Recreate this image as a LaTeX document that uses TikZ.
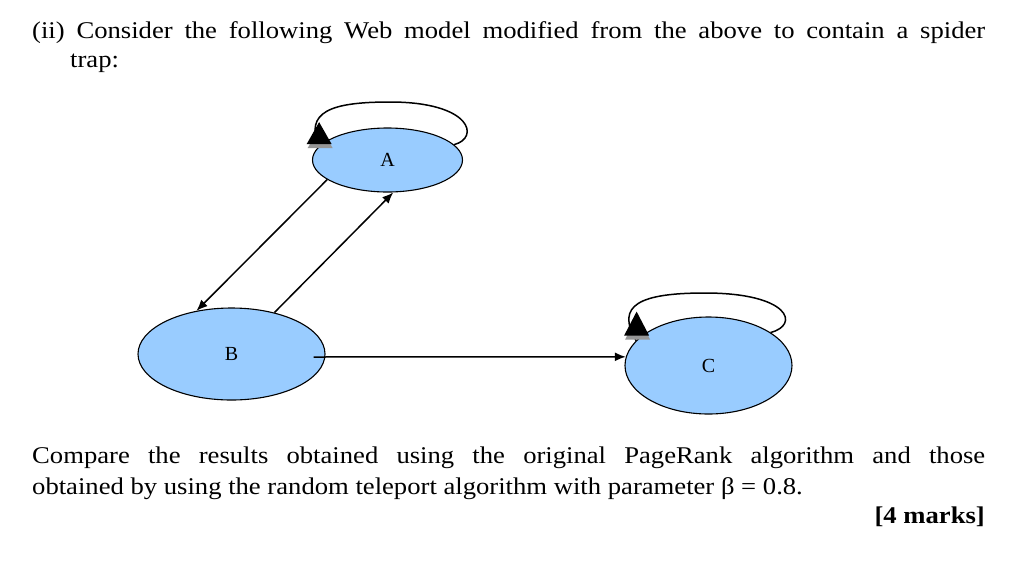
\documentclass[tikz,border=0pt]{standalone}
\usepackage{fontspec}
\setmainfont[FakeStretch=1.11]{Liberation Serif}
\newfontfamily\labelfont{Liberation Serif}
\usetikzlibrary{shapes.geometric,arrows.meta}
\definecolor{nodeblue}{RGB}{153,204,255}
\definecolor{shadowgray}{RGB}{150,150,150}
\tikzset{
  page/.style={ellipse, draw=black, line width=1.1pt, fill=nodeblue, inner sep=0pt, font=\labelfont\fontsize{20}{24}\selectfont},
  link/.style={line width=1.5pt, -{Latex[length=11pt,width=9pt]}},
  selfloop/.style={line width=1.5pt},
  bighead/.style={fill=black},
  headshadow/.style={fill=shadowgray},
  body/.style={anchor=base west, inner sep=0pt, font=\fontsize{24}{31}\selectfont},
}
\begin{document}
\begin{tikzpicture}[x=1pt,y=-1pt]
\useasboundingbox (0,0) rectangle (1020,571);
\fill[white] (0,0) rectangle (1020,571);
% question text
\node[body] (l1) at (32,38) {\makebox[953pt][s]{(ii) Consider the following Web model modified from the above to contain a spider}};
\node[body] (l2) at (70,67) {trap:};
% nodes
\node[page, minimum width=150pt, minimum height=64pt] (A) at (387.5,160) {A};
\node[page, minimum width=187pt, minimum height=92pt] (B) at (231.5,354) {B};
\node[page, minimum width=167pt, minimum height=97pt] (C) at (708.5,365.5) {C};
% links
\draw[link] (A.198) -- (B.129);
\draw[link] (B.44) -- (A.-80);
\draw[link] ([shift={(-12,3)}]B.east) -- (C.174);
% self loops
\draw[selfloop] (A.13) .. controls (480,138) and (472,102) .. (390,102)
  .. controls (330,102) and (305,112) .. (A.169);
\draw[selfloop] (C.28) .. controls (800,325) and (790,293) .. (705,293)
  .. controls (640,293) and (615,305) .. (C.161);
% loop arrowheads
\coordinate (tA) at ([shift={(0.5,-24.5)}]A.169);
\coordinate (tC) at ([shift={(0.5,-29)}]C.161);
\fill[headshadow] ([shift={(1,4)}]tA) -- ++(-12.5,22) -- ++(25,0) -- cycle;
\fill[bighead] (tA) -- ++(-12.5,22) -- ++(25,0) -- cycle;
\fill[headshadow] ([shift={(1,4)}]tC) -- ++(-12.5,24) -- ++(25,0) -- cycle;
\fill[bighead] (tC) -- ++(-12.5,24) -- ++(25,0) -- cycle;
% task text
\node[body] (q1) at (32,463) {\makebox[953pt][s]{Compare the results obtained using the original PageRank algorithm and those}};
\node[body] (q2) at (32,494) {obtained by using the random teleport algorithm with parameter β = 0.8.};
\node[body, anchor=base east, font=\fontsize{24}{31}\selectfont\bfseries] (marks) at (985,523) {[4 marks]};
\end{tikzpicture}
\end{document}
